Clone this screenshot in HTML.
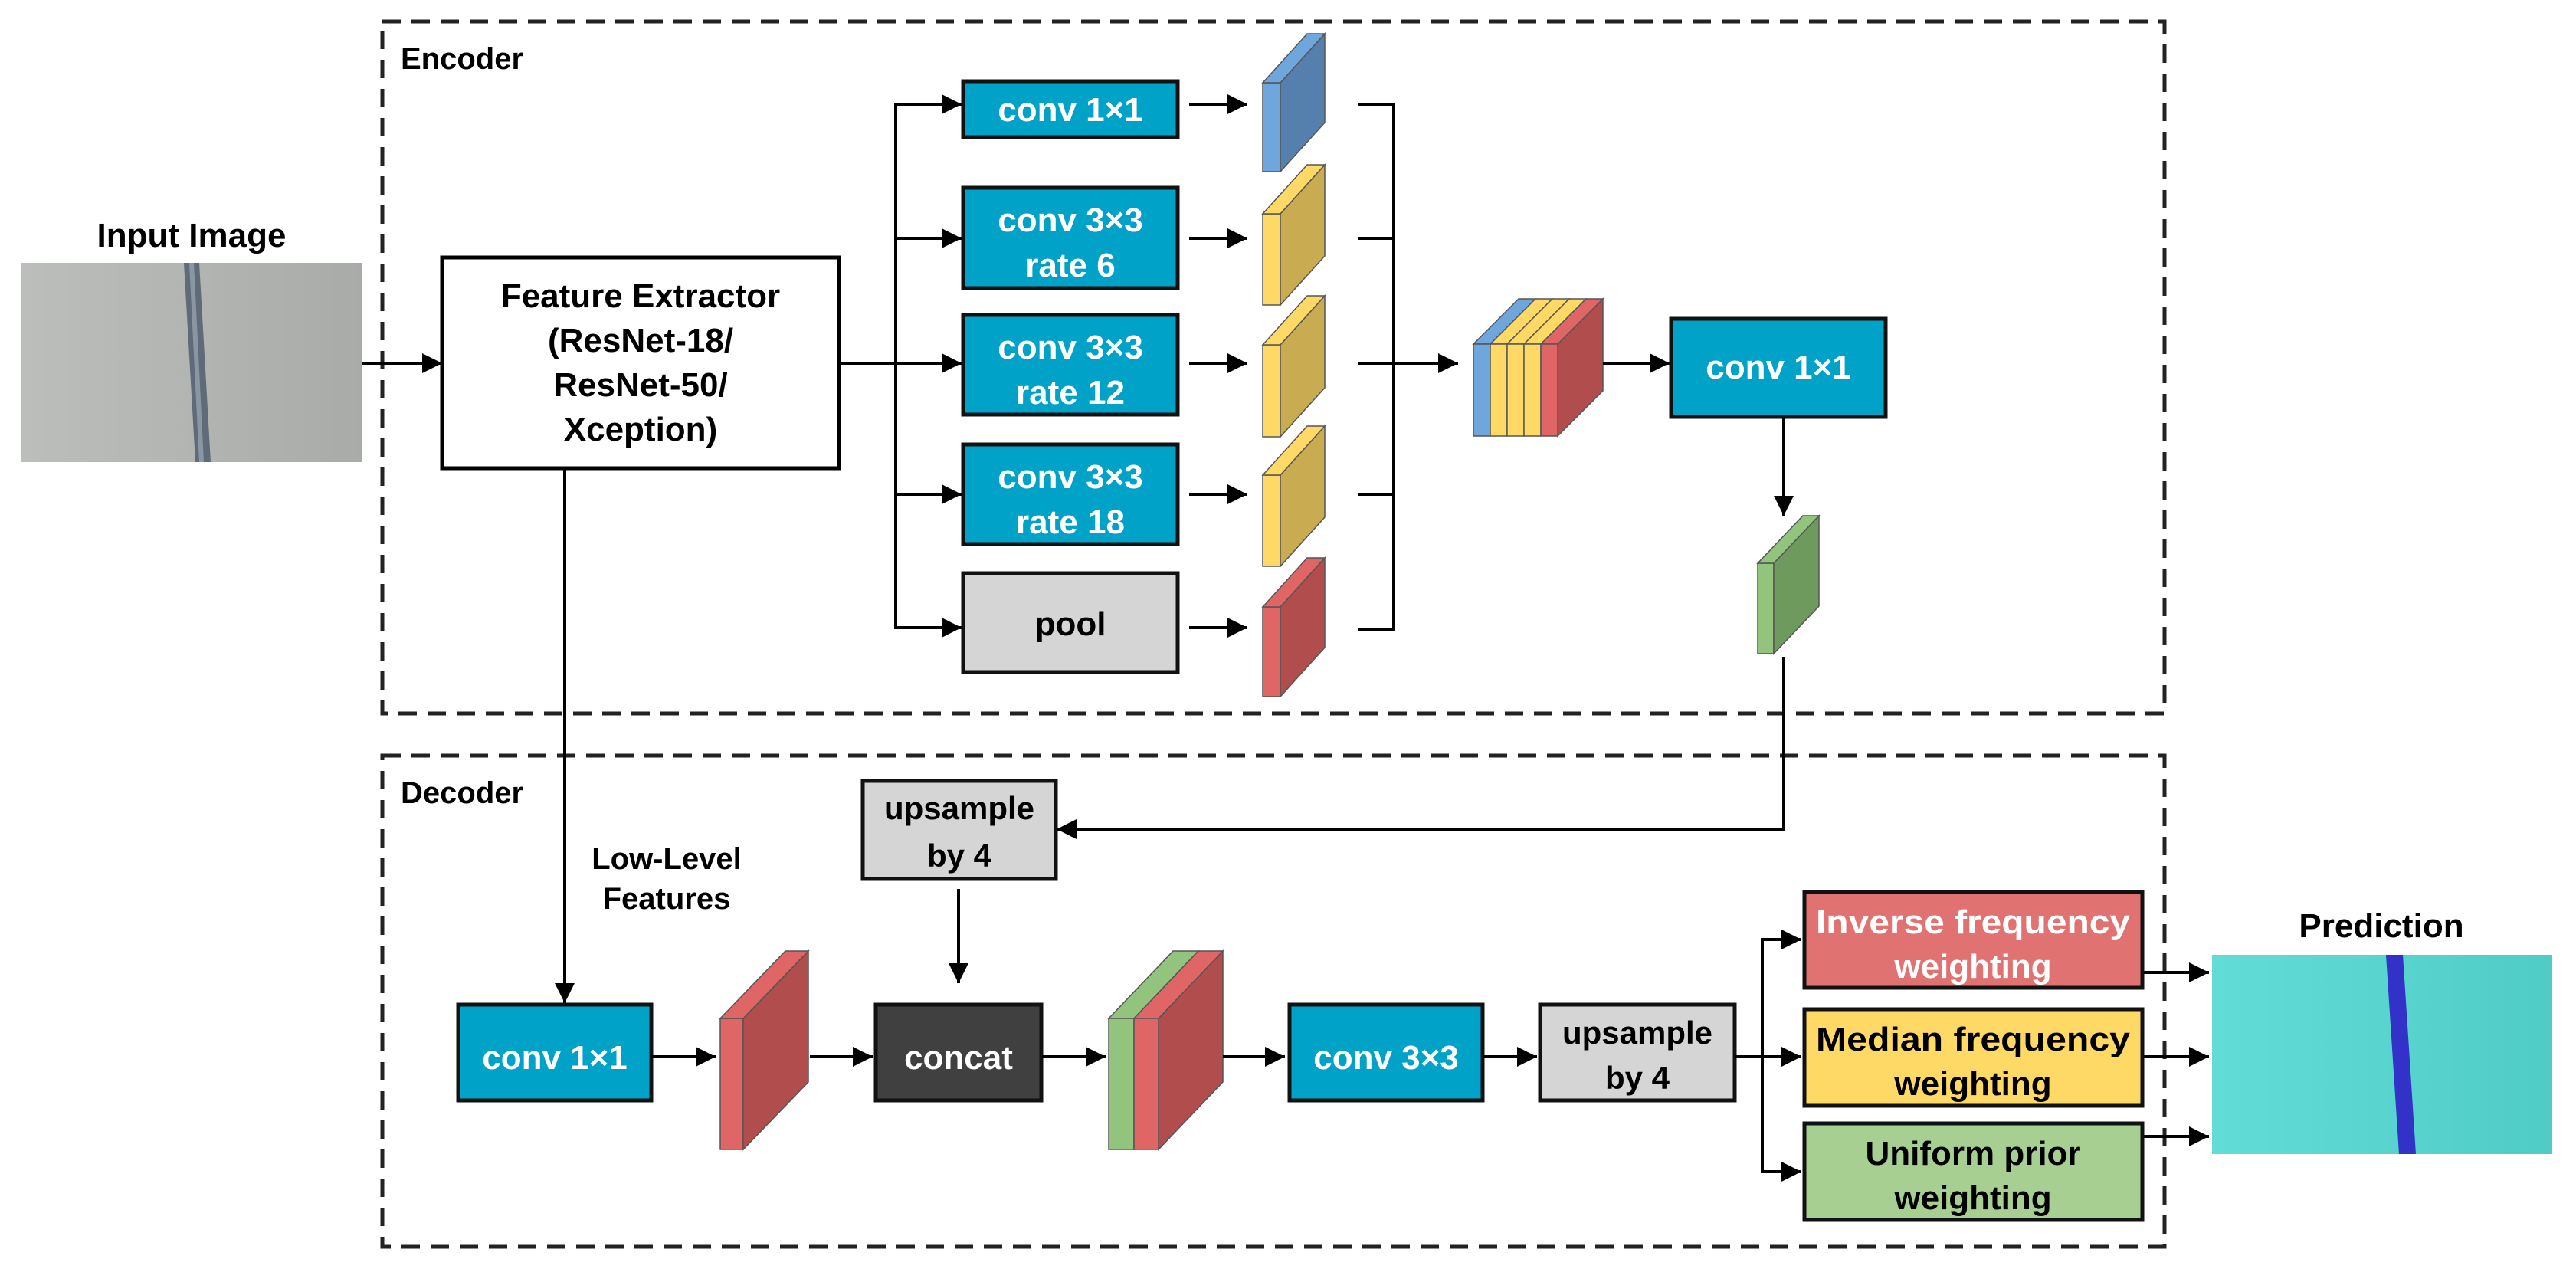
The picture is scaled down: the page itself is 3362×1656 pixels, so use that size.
<!DOCTYPE html>
<html><head><meta charset="utf-8"><style>
html,body{margin:0;padding:0;background:#fff}
svg{display:block}
text{font-family:"Liberation Sans",Arial,sans-serif;font-weight:bold}
</style></head><body>
<svg width="3362" height="1656" viewBox="0 0 3362 1656" xmlns="http://www.w3.org/2000/svg">
<defs>
<marker id="a" markerUnits="userSpaceOnUse" markerWidth="28" markerHeight="28" refX="26" refY="13" orient="auto">
<path d="M0,0 L26,13 L0,26 z" fill="#000"/>
</marker>
<linearGradient id="gi" x1="0" x2="1" y1="0" y2="0"><stop offset="0" stop-color="#bcbebc"/><stop offset="1" stop-color="#a9aba9"/></linearGradient>
<linearGradient id="gp" x1="0" x2="1" y1="0" y2="0"><stop offset="0" stop-color="#62dcd6"/><stop offset="1" stop-color="#50ccc6"/></linearGradient>
</defs>

<rect x="499" y="28" width="2326" height="903" fill="none" stroke="#222" stroke-width="5" stroke-dasharray="24,14"/>
<rect x="499" y="986" width="2326" height="641" fill="none" stroke="#222" stroke-width="5" stroke-dasharray="24,14"/>
<text x="523" y="90" font-size="40">Encoder</text>
<text x="523" y="1048" font-size="40">Decoder</text>

<text x="250" y="322" font-size="44" text-anchor="middle">Input Image</text>
<rect x="27" y="343" width="446" height="260" fill="url(#gi)"/>
<polygon points="240,343 260,343 275,603 255,603" fill="#5f6b78"/>
<polygon points="247,343 253,343 266,603 260,603" fill="#8a96a4"/>

<rect x="577" y="336" width="518" height="275" fill="#fff" stroke="#000" stroke-width="5"/>
<g font-size="44" text-anchor="middle">
<text x="836" y="401">Feature Extractor</text>
<text x="836" y="459">(ResNet-18/</text>
<text x="836" y="517">ResNet-50/</text>
<text x="836" y="575">Xception)</text>
</g>
<line x1="473" y1="474" x2="577" y2="474" stroke="#000" stroke-width="4" marker-end="url(#a)"/>

<line x1="1095" y1="474" x2="1169" y2="474" stroke="#000" stroke-width="4"/>
<line x1="1169" y1="136" x2="1169" y2="819" stroke="#000" stroke-width="4"/>
<g stroke="#000" stroke-width="4" fill="none">
<line x1="1167" y1="136" x2="1255" y2="136" marker-end="url(#a)"/>
<line x1="1167" y1="311" x2="1255" y2="311" marker-end="url(#a)"/>
<line x1="1169" y1="474" x2="1255" y2="474" marker-end="url(#a)"/>
<line x1="1167" y1="645" x2="1255" y2="645" marker-end="url(#a)"/>
<line x1="1167" y1="819" x2="1255" y2="819" marker-end="url(#a)"/>
<line x1="1552" y1="136" x2="1628" y2="136" marker-end="url(#a)"/>
<line x1="1552" y1="311" x2="1628" y2="311" marker-end="url(#a)"/>
<line x1="1552" y1="474" x2="1628" y2="474" marker-end="url(#a)"/>
<line x1="1552" y1="645" x2="1628" y2="645" marker-end="url(#a)"/>
<line x1="1552" y1="819" x2="1628" y2="819" marker-end="url(#a)"/>
</g>
<g stroke="#111" stroke-width="5">
<rect x="1257" y="106" width="280" height="73" fill="#00a2c8"/>
<rect x="1257" y="245" width="280" height="131" fill="#00a2c8"/>
<rect x="1257" y="411" width="280" height="130" fill="#00a2c8"/>
<rect x="1257" y="580" width="280" height="130" fill="#00a2c8"/>
<rect x="1257" y="748" width="280" height="129" fill="#d5d5d5"/>
</g>
<g font-size="44" text-anchor="middle" fill="#fff">
<text x="1397" y="158">conv 1×1</text>
<text x="1397" y="302">conv 3×3</text>
<text x="1397" y="361">rate 6</text>
<text x="1397" y="468">conv 3×3</text>
<text x="1397" y="527">rate 12</text>
<text x="1397" y="637">conv 3×3</text>
<text x="1397" y="696">rate 18</text>
<text x="1397" y="829" fill="#000">pool</text>
</g>

<g stroke="#555" stroke-width="1.5">
<rect x="1648" y="108" width="23" height="116" fill="#6fa6dc"/>
<polygon points="1671,108 1729,44 1729,160 1671,224" fill="#5580ad"/>
<polygon points="1648,108 1706,44 1729,44 1671,108" fill="#6fa6dc"/>
<rect x="1648" y="279" width="23" height="119" fill="#ffd966"/>
<polygon points="1671,279 1729,215 1729,334 1671,398" fill="#c9ac52"/>
<polygon points="1648,279 1706,215 1729,215 1671,279" fill="#ffd966"/>
<rect x="1648" y="450" width="23" height="120" fill="#ffd966"/>
<polygon points="1671,450 1729,386 1729,506 1671,570" fill="#c9ac52"/>
<polygon points="1648,450 1706,386 1729,386 1671,450" fill="#ffd966"/>
<rect x="1648" y="620" width="23" height="119" fill="#ffd966"/>
<polygon points="1671,620 1729,556 1729,675 1671,739" fill="#c9ac52"/>
<polygon points="1648,620 1706,556 1729,556 1671,620" fill="#ffd966"/>
<rect x="1648" y="792" width="23" height="117" fill="#e06666"/>
<polygon points="1671,792 1729,728 1729,845 1671,909" fill="#b24d4d"/>
<polygon points="1648,792 1706,728 1729,728 1671,792" fill="#e06666"/>
</g>

<g stroke="#000" stroke-width="4" fill="none">
<polyline points="1772,136 1819,136 1819,821 1772,821"/>
<line x1="1772" y1="311" x2="1819" y2="311"/>
<line x1="1772" y1="645" x2="1819" y2="645"/>
<line x1="1772" y1="474" x2="1903" y2="474" marker-end="url(#a)"/>
</g>

<g stroke="#555" stroke-width="1.5">
<polygon points="2033,449 2092,390 2092,510 2033,569" fill="#b24d4d"/>
<polygon points="1923,449 1982,390 2004,390 1945,449" fill="#6fa6dc"/>
<polygon points="1945,449 2004,390 2026,390 1967,449" fill="#ffd966"/>
<polygon points="1967,449 2026,390 2048,390 1989,449" fill="#ffd966"/>
<polygon points="1989,449 2048,390 2070,390 2011,449" fill="#ffd966"/>
<polygon points="2011,449 2070,390 2092,390 2033,449" fill="#e06666"/>
<rect x="1923" y="449" width="22" height="120" fill="#6fa6dc"/>
<rect x="1945" y="449" width="22" height="120" fill="#ffd966"/>
<rect x="1967" y="449" width="22" height="120" fill="#ffd966"/>
<rect x="1989" y="449" width="22" height="120" fill="#ffd966"/>
<rect x="2011" y="449" width="22" height="120" fill="#e06666"/>
</g>
<line x1="2092" y1="474" x2="2179" y2="474" stroke="#000" stroke-width="4" marker-end="url(#a)"/>
<rect x="2181" y="416" width="280" height="128" fill="#00a2c8" stroke="#111" stroke-width="5"/>
<text x="2321" y="494" font-size="44" text-anchor="middle" fill="#fff">conv 1×1</text>
<line x1="2328" y1="546" x2="2328" y2="673" stroke="#000" stroke-width="4" marker-end="url(#a)"/>
<g stroke="#555" stroke-width="1.5">
<rect x="2294" y="735" width="21" height="118" fill="#93c47d"/>
<polygon points="2315,735 2374,673 2374,791 2315,853" fill="#6f9a5e"/>
<polygon points="2294,735 2353,673 2374,673 2315,735" fill="#93c47d"/>
</g>
<polyline points="2328,858 2328,1082 1379,1082" fill="none" stroke="#000" stroke-width="4" marker-end="url(#a)"/>

<line x1="737" y1="611" x2="737" y2="1309" stroke="#000" stroke-width="4" marker-end="url(#a)"/>
<text x="870" y="1134" font-size="40" text-anchor="middle">Low-Level</text>
<text x="870" y="1186" font-size="40" text-anchor="middle">Features</text>

<rect x="1126" y="1019" width="252" height="128" fill="#d5d5d5" stroke="#111" stroke-width="5"/>
<text x="1252" y="1069" font-size="42" text-anchor="middle">upsample</text>
<text x="1252" y="1131" font-size="42" text-anchor="middle">by 4</text>
<line x1="1251" y1="1160" x2="1251" y2="1283" stroke="#000" stroke-width="4" marker-end="url(#a)"/>

<rect x="598" y="1311" width="252" height="125" fill="#00a2c8" stroke="#111" stroke-width="5"/>
<text x="724" y="1395" font-size="44" text-anchor="middle" fill="#fff">conv 1×1</text>
<line x1="850" y1="1379" x2="934" y2="1379" stroke="#000" stroke-width="4" marker-end="url(#a)"/>
<g stroke="#555" stroke-width="1.5">
<rect x="940" y="1329" width="30" height="171" fill="#e06666"/>
<polygon points="970,1329 1055,1241 1055,1412 970,1500" fill="#b24d4d"/>
<polygon points="940,1329 1025,1241 1055,1241 970,1329" fill="#e06666"/>
</g>
<line x1="1057" y1="1379" x2="1139" y2="1379" stroke="#000" stroke-width="4" marker-end="url(#a)"/>
<rect x="1143" y="1311" width="216" height="125" fill="#404040" stroke="#111" stroke-width="5"/>
<text x="1251" y="1395" font-size="44" text-anchor="middle" fill="#fff">concat</text>
<line x1="1360" y1="1379" x2="1443" y2="1379" stroke="#000" stroke-width="4" marker-end="url(#a)"/>
<g stroke="#555" stroke-width="1.5">
<polygon points="1512,1329 1596,1241 1596,1412 1512,1500" fill="#b24d4d"/>
<polygon points="1447,1329 1531,1241 1564,1241 1480,1329" fill="#93c47d"/>
<polygon points="1480,1329 1564,1241 1596,1241 1512,1329" fill="#e06666"/>
<rect x="1447" y="1329" width="33" height="171" fill="#93c47d"/>
<rect x="1480" y="1329" width="32" height="171" fill="#e06666"/>
</g>
<line x1="1596" y1="1379" x2="1677" y2="1379" stroke="#000" stroke-width="4" marker-end="url(#a)"/>
<rect x="1683" y="1311" width="252" height="125" fill="#00a2c8" stroke="#111" stroke-width="5"/>
<text x="1809" y="1395" font-size="44" text-anchor="middle" fill="#fff">conv 3×3</text>
<line x1="1935" y1="1379" x2="2006" y2="1379" stroke="#000" stroke-width="4" marker-end="url(#a)"/>
<rect x="2010" y="1311" width="254" height="125" fill="#d5d5d5" stroke="#111" stroke-width="5"/>
<text x="2137" y="1362" font-size="42" text-anchor="middle">upsample</text>
<text x="2137" y="1421" font-size="42" text-anchor="middle">by 4</text>

<g stroke="#000" stroke-width="4" fill="none">
<line x1="2264" y1="1379" x2="2351" y2="1379" marker-end="url(#a)"/>
<polyline points="2351,1226 2300,1226 2300,1529 2351,1529"/>
<line x1="2300" y1="1226" x2="2351" y2="1226" marker-end="url(#a)"/>
<line x1="2300" y1="1529" x2="2351" y2="1529" marker-end="url(#a)"/>
<line x1="2797" y1="1269" x2="2883" y2="1269" marker-end="url(#a)"/>
<line x1="2797" y1="1379" x2="2883" y2="1379" marker-end="url(#a)"/>
<line x1="2797" y1="1483" x2="2883" y2="1483" marker-end="url(#a)"/>
</g>
<g stroke="#111" stroke-width="5">
<rect x="2355" y="1164" width="441" height="125" fill="#e07272"/>
<rect x="2355" y="1317" width="441" height="126" fill="#ffd966"/>
<rect x="2355" y="1466" width="441" height="126" fill="#a8cf92"/>
</g>
<g font-size="44" text-anchor="middle">
<text x="2575" y="1218" fill="#fff" textLength="410" lengthAdjust="spacingAndGlyphs">Inverse frequency</text>
<text x="2575" y="1276" fill="#fff">weighting</text>
<text x="2575" y="1371" textLength="410" lengthAdjust="spacingAndGlyphs">Median frequency</text>
<text x="2575" y="1429">weighting</text>
<text x="2575" y="1520">Uniform prior</text>
<text x="2575" y="1578">weighting</text>
</g>

<text x="3108" y="1223" font-size="44" text-anchor="middle">Prediction</text>
<rect x="2887" y="1246" width="444" height="260" fill="url(#gp)"/>
<polygon points="3114,1246 3136,1246 3153,1506 3131,1506" fill="#3232c8"/>
</svg>
</body></html>
